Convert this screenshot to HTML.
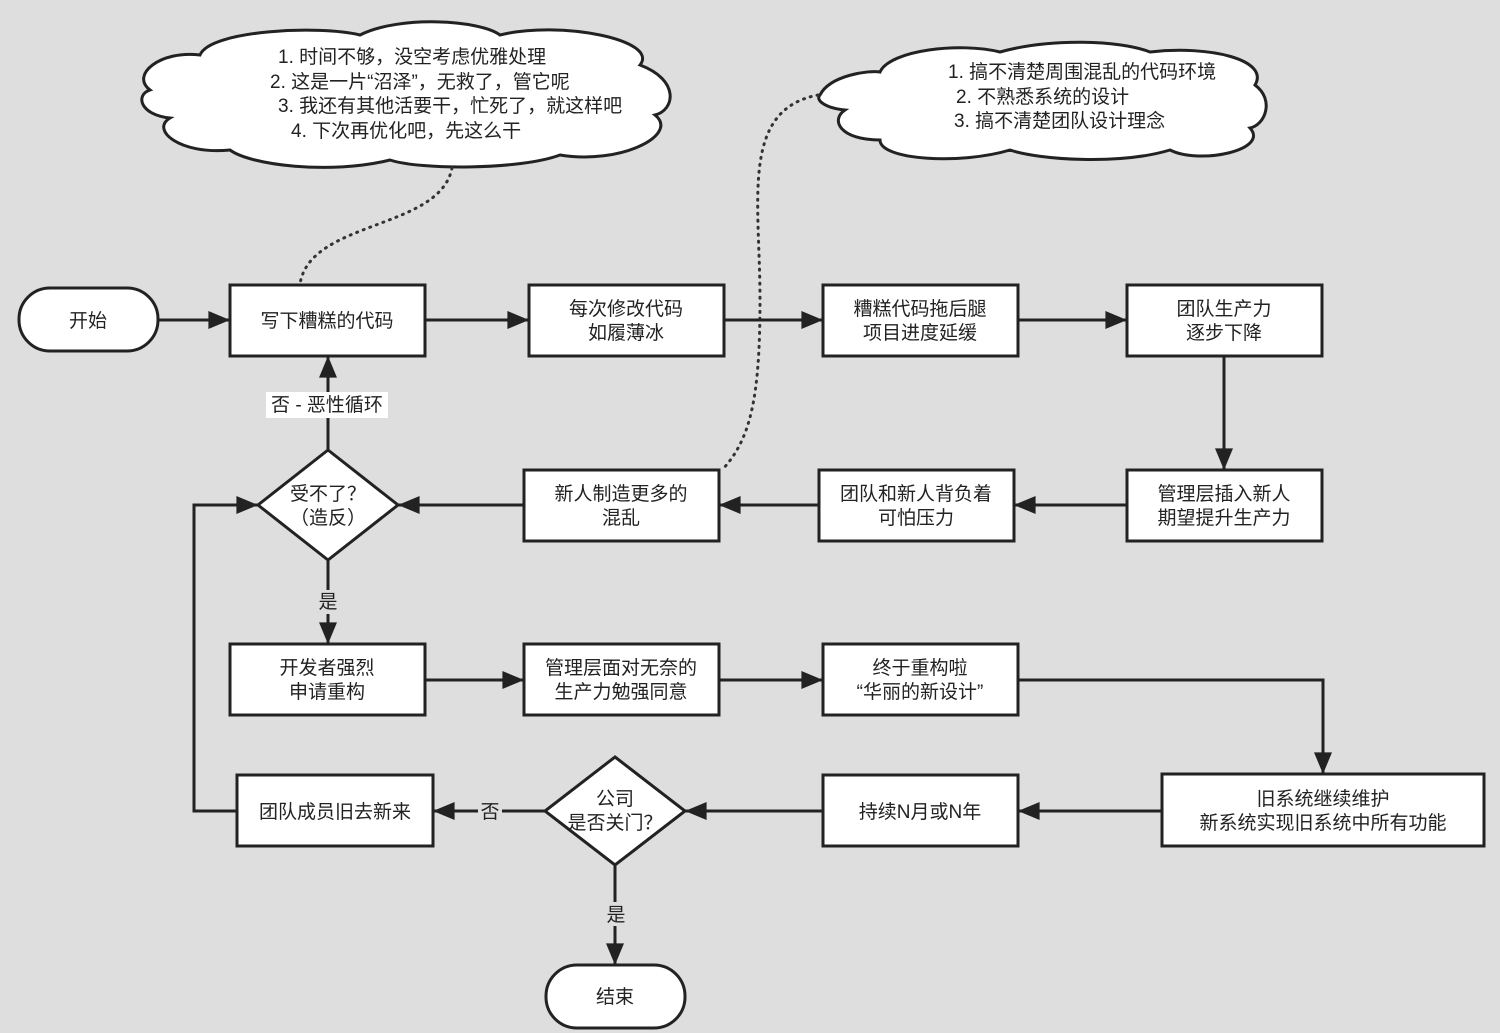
<!DOCTYPE html>
<html><head><meta charset="utf-8"><style>
html,body{margin:0;padding:0;background:#dedede;}
svg{display:block;}
text{font-family:"Liberation Sans","Noto Sans CJK SC",sans-serif;font-size:19px;fill:#222;}
</style></head><body>
<svg width="1500" height="1033" viewBox="0 0 1500 1033" xmlns="http://www.w3.org/2000/svg">
<defs>
<marker id="a" viewBox="0 0 12 10" refX="12" refY="5" markerWidth="22" markerHeight="18" markerUnits="userSpaceOnUse" orient="auto">
<path d="M0,0 L12,5 L0,10 Z" fill="#222"/></marker>
</defs>
<rect width="1500" height="1033" fill="#dedede"/>
<g fill="#fff" stroke="#222" stroke-width="3">
<path d="M150,90 C130,75 160,50 200,55 C210,30 320,25 360,35 C400,15 480,20 500,35 C560,20 660,40 640,65 C680,80 675,110 655,115 C680,135 620,165 560,155 C520,170 420,170 390,160 C330,175 250,165 230,150 C180,155 150,130 170,118 C140,115 135,95 150,90 Z"/>
<path d="M820,95 C830,75 870,70 880,72 C890,50 960,42 1000,52 C1050,38 1120,40 1150,52 C1210,45 1270,60 1255,85 C1275,100 1265,125 1250,128 C1270,150 1200,165 1170,150 C1120,165 1040,160 1010,150 C960,165 880,160 880,140 C840,140 830,120 845,110 C825,108 815,100 820,95 Z"/>
</g>
<g fill="none" stroke="#333" stroke-width="3" stroke-dasharray="1 6" stroke-linecap="round">
<path d="M452,168 C440,230 310,220 300,284"/>
<path d="M818,95 C740,110 760,200 760,300 C760,400 750,440 722,470"/>
</g>
<g font-size="19">
<text x="278" y="63">1. 时间不够，没空考虑优雅处理</text>
<text x="270" y="88">2. 这是一片“沼泽”，无救了，管它呢</text>
<text x="278" y="112">3. 我还有其他活要干，忙死了，就这样吧</text>
<text x="291" y="137">4. 下次再优化吧，先这么干</text>
<text x="948" y="78">1. 搞不清楚周围混乱的代码环境</text>
<text x="956" y="103">2. 不熟悉系统的设计</text>
<text x="954" y="127">3. 搞不清楚团队设计理念</text>
</g>
<g fill="none" stroke="#222" stroke-width="3">
<line x1="158" y1="320" x2="230" y2="320" marker-end="url(#a)"/>
<line x1="425" y1="320" x2="529" y2="320" marker-end="url(#a)"/>
<line x1="724" y1="320" x2="823" y2="320" marker-end="url(#a)"/>
<line x1="1018" y1="320" x2="1127" y2="320" marker-end="url(#a)"/>
<line x1="1224" y1="356" x2="1224" y2="470" marker-end="url(#a)"/>
<line x1="1127" y1="505" x2="1014" y2="505" marker-end="url(#a)"/>
<line x1="819" y1="505" x2="719" y2="505" marker-end="url(#a)"/>
<line x1="524" y1="505" x2="398" y2="505" marker-end="url(#a)"/>
<line x1="328" y1="450" x2="328" y2="356" marker-end="url(#a)"/>
<line x1="328" y1="560" x2="328" y2="644" marker-end="url(#a)"/>
<line x1="425" y1="680" x2="524" y2="680" marker-end="url(#a)"/>
<line x1="719" y1="680" x2="823" y2="680" marker-end="url(#a)"/>
<polyline points="1018,680 1323,680 1323,774" marker-end="url(#a)"/>
<line x1="1162" y1="811" x2="1018" y2="811" marker-end="url(#a)"/>
<line x1="823" y1="811" x2="685" y2="811" marker-end="url(#a)"/>
<line x1="545" y1="811" x2="433" y2="811" marker-end="url(#a)"/>
<line x1="615" y1="865" x2="615" y2="965" marker-end="url(#a)"/>
<polyline points="237,811 194,811 194,505 258,505" marker-end="url(#a)"/>
</g>
<g fill="#fff" stroke="#222" stroke-width="3">
<rect x="19" y="288" width="139" height="63" rx="31"/>
<rect x="230" y="285" width="195" height="71"/>
<rect x="529" y="285" width="195" height="71"/>
<rect x="823" y="285" width="195" height="71"/>
<rect x="1127" y="285" width="195" height="71"/>
<rect x="1127" y="470" width="195" height="71"/>
<rect x="819" y="470" width="195" height="71"/>
<rect x="524" y="470" width="195" height="71"/>
<polygon points="328,450 398,505 328,560 258,505"/>
<rect x="230" y="644" width="195" height="71"/>
<rect x="524" y="644" width="195" height="71"/>
<rect x="823" y="644" width="195" height="71"/>
<rect x="1162" y="774" width="322" height="72"/>
<rect x="823" y="775" width="195" height="71"/>
<polygon points="615,757 685,811 615,865 545,811"/>
<rect x="237" y="775" width="196" height="71"/>
<rect x="546" y="965" width="139" height="63" rx="31"/>
</g>
<rect x="266" y="392" width="122" height="26" fill="#fff"/>
<rect x="316" y="590" width="24" height="24" fill="#dedede"/>
<rect x="478" y="799" width="24" height="24" fill="#dedede"/>
<rect x="604" y="902" width="24" height="24" fill="#dedede"/>
<g text-anchor="middle">
<text x="88" y="327">开始</text>
<text x="327" y="327">写下糟糕的代码</text>
<text x="626" y="315">每次修改代码</text><text x="626" y="339">如履薄冰</text>
<text x="920" y="315">糟糕代码拖后腿</text><text x="920" y="339">项目进度延缓</text>
<text x="1224" y="315">团队生产力</text><text x="1224" y="339">逐步下降</text>
<text x="1224" y="500">管理层插入新人</text><text x="1224" y="524">期望提升生产力</text>
<text x="916" y="500">团队和新人背负着</text><text x="916" y="524">可怕压力</text>
<text x="621" y="500">新人制造更多的</text><text x="621" y="524">混乱</text>
<text x="328" y="500">受不了？</text><text x="328" y="524">（造反）</text>
<text x="327" y="411">否 - 恶性循环</text>
<text x="328" y="608">是</text>
<text x="327" y="674">开发者强烈</text><text x="327" y="698">申请重构</text>
<text x="621" y="674">管理层面对无奈的</text><text x="621" y="698">生产力勉强同意</text>
<text x="920" y="674">终于重构啦</text><text x="920" y="698">“华丽的新设计”</text>
<text x="1323" y="805">旧系统继续维护</text><text x="1323" y="829">新系统实现旧系统中所有功能</text>
<text x="920" y="818">持续N月或N年</text>
<text x="615" y="805">公司</text><text x="615" y="829">是否关门？</text>
<text x="490" y="818">否</text>
<text x="335" y="818">团队成员旧去新来</text>
<text x="616" y="921">是</text>
<text x="615" y="1003">结束</text>
</g>
</svg>
</body></html>
